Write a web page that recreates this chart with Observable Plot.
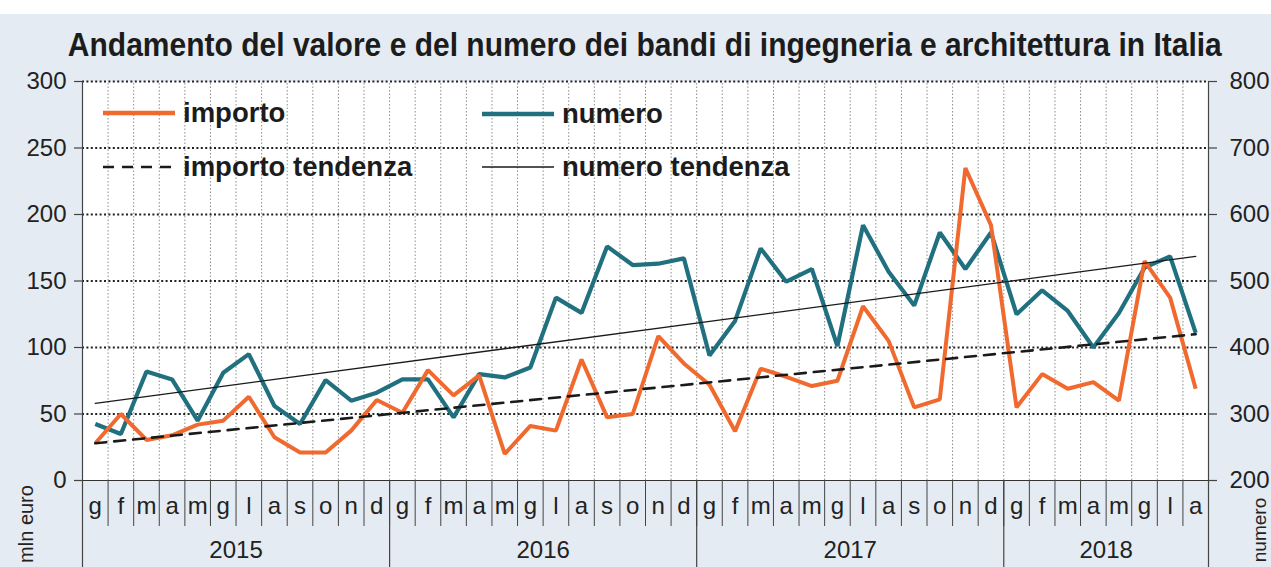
<!DOCTYPE html>
<html>
<head>
<meta charset="utf-8">
<script src="https://cdn.jsdelivr.net/npm/d3@7"></script>
<script src="https://cdn.jsdelivr.net/npm/@observablehq/plot@0.6"></script>
<style>
  html, body { margin: 0; padding: 0; }
  body { width: 1271px; height: 567px; overflow: hidden; background: #e5ebf2; font-family: "Liberation Sans", Arial, sans-serif; }
  #wrap { position: relative; width: 1271px; height: 567px; }
  #topstrip { position: absolute; left: 0; top: 0; width: 1271px; height: 14px; background: #ffffff; }
  #title { position: absolute; left: 9px; top: 25px; width: 1271px; text-align: center; white-space: nowrap;
           font-size: 30px; font-weight: bold; color: #1c1c1c; line-height: 40px; }
  #title span { display: inline-block; transform-origin: 50% 50%; }
  #chart { position: absolute; left: 0; top: 70px; }
  #legend { position: absolute; left: 0; top: 0; pointer-events: none; }
</style>
</head>
<body>
<div id="wrap">
  <div id="topstrip"></div>
  <div id="title"><span>Andamento del valore e del numero dei bandi di ingegneria e architettura in Italia</span></div>
  <div id="chart"></div>
  <svg id="legend" width="1271" height="567"></svg>
</div>
<script>
// ---- data ----
const months = ["g","f","m","a","m","g","l","a","s","o","n","d"];
const years = ["2015","2016","2017","2018"];
// importo (mln euro), left axis
const importo = [
  28, 50, 30.5, 34, 42, 45, 63, 32.5, 21, 21, 37.5, 60.5,
  51, 83, 64, 79, 20, 41, 37.5, 91, 47.5, 50, 108.5, 88,
  72, 37, 84, 78, 71, 75, 131, 105, 55, 61, 235, 192,
  55, 80, 69, 74, 60, 165, 137.5, 69
];
// numero (count), right axis
const numero = [
  285, 270, 364, 352, 290, 362, 390, 312, 285, 351, 320, 332,
  352, 352, 295, 360, 355, 370, 475, 452, 552, 524, 526, 534,
  388, 440, 549, 499, 518, 402, 584, 514, 463, 573, 518, 573,
  450, 486, 455, 400, 452, 520, 537, 422
];
// trend lines (first and last month)
const importoTrend = [28, 110];
const numeroTrend = [316, 537];
const leftTicks = [0, 50, 100, 150, 200, 250, 300];
const rightTicks = [200, 300, 400, 500, 600, 700, 800];
const seriesNames = ["importo", "numero", "importo tendenza", "numero tendenza"];
const colors = { importo: "#f0692f", numero: "#21707f", trend: "#1a1a1a" };

// ---- title fit ----
const tspan = document.querySelector("#title span");
const tw = tspan.getBoundingClientRect().width;
tspan.style.transform = `scale(${1154 / tw}, 1.12)`;

// ---- derived tables ----
const toLeft = n => (n - 200) / 2; // right axis 200..800 -> left 0..300
const rows = importo.map((v, i) => ({
  i, month: months[i % 12], year: years[Math.floor(i / 12)], importo: v, numero: numero[i]
}));
const n = rows.length;
const trendRows = (arr) => [{ i: 0, v: arr[0] }, { i: n - 1, v: arr[1] }];
const inner = d3.range(0.5, n - 1, 1);            // boundaries between months
const yearInner = years.slice(1).map((y, k) => (k + 1) * 12 - 0.5);
const edges = [-0.5, n - 0.5];
const yearCenters = years.map(y => {
  const idx = rows.filter(r => r.year === y).map(r => r.i);
  return { year: y, x: (d3.min(idx) + d3.max(idx)) / 2 };
});
const pxPerUnitX = 1126 / n, pxPerUnitY = 399 / 300;

const chart = Plot.plot({
  width: 1271, height: 497,
  marginTop: 11, marginBottom: 87, marginLeft: 82, marginRight: 63,
  x: { domain: [-0.5, n - 0.5], axis: null },
  y: { domain: [0, 300], axis: null },
  style: { background: "transparent", overflow: "visible", fontFamily: "Liberation Sans, Arial, sans-serif", color: "#222" },
  marks: [
    Plot.frame({ fill: "#ffffff", stroke: "none" }),
    // vertical dotted grid
    Plot.ruleX(inner, { y1: 0, y2: 300, stroke: "#8c8c8c", strokeWidth: 1, strokeDasharray: "1.5,2" }),
    // horizontal dotted grid
    Plot.ruleY(leftTicks.filter(t => t > 0), { x1: -0.5, x2: n - 0.5, stroke: "#222", strokeWidth: 2, strokeDasharray: "2,2.4" }),
    // zero baseline
    Plot.ruleY([0], { x1: -0.5, x2: n - 0.5, stroke: "#333", strokeWidth: 1.2 }),
    // month separators below the axis
    Plot.ruleX(inner, { y1: 0, y2: -46 / pxPerUnitY, stroke: "#444", strokeWidth: 1 }),
    // year separators below the axis
    Plot.ruleX(yearInner, { y1: 0, y2: -88 / pxPerUnitY, stroke: "#444", strokeWidth: 1.2 }),
    // axis lines
    Plot.ruleX(edges, { y1: 300, y2: -88 / pxPerUnitY, stroke: "#444", strokeWidth: 1.2 }),
    // left ticks
    Plot.ruleY(leftTicks, { x1: -0.5 - 8 / pxPerUnitX, x2: -0.5, stroke: "#444", strokeWidth: 1.2 }),
    // right ticks
    Plot.ruleY(rightTicks, { y: d => toLeft(d), x1: n - 0.5, x2: n - 0.5 + 9 / pxPerUnitX, stroke: "#444", strokeWidth: 1.2 }),
    // left tick labels
    Plot.text(leftTicks, { y: d => d, text: d => String(d), frameAnchor: "left", dx: -16, textAnchor: "end", fontSize: 24, fill: "#222" }),
    // right tick labels
    Plot.text(rightTicks, { y: d => toLeft(d), text: d => String(d), frameAnchor: "right", dx: 21, textAnchor: "start", fontSize: 24, fill: "#222" }),
    // month labels
    Plot.text(rows, { x: "i", text: "month", frameAnchor: "bottom", dy: 33, fontSize: 24, fill: "#222" }),
    // year labels
    Plot.text(yearCenters, { x: "x", text: "year", frameAnchor: "bottom", dy: 77, fontSize: 24, fill: "#222" }),
    // series
    Plot.line(rows, { x: "i", y: d => toLeft(d.numero), stroke: colors.numero, strokeWidth: 4.2, strokeLinejoin: "miter", strokeLinecap: "butt" }),
    Plot.line(rows, { x: "i", y: "importo", stroke: colors.importo, strokeWidth: 4, strokeLinejoin: "miter", strokeLinecap: "butt" }),
    // trends
    Plot.line(trendRows(importoTrend), { x: "i", y: "v", stroke: colors.trend, strokeWidth: 2.6, strokeDasharray: "11,8" }),
    Plot.line(trendRows(numeroTrend).map(d => ({ i: d.i, v: toLeft(d.v) })), { x: "i", y: "v", stroke: colors.trend, strokeWidth: 1.3 })
  ]
});
document.getElementById("chart").appendChild(chart);

// ---- legend and axis titles (overlay) ----
const legend = d3.select("#legend");
const items = [
  { name: seriesNames[0], x: 103, y: 113, stroke: colors.importo, w: 4.5, dash: null },
  { name: seriesNames[1], x: 482, y: 114, stroke: colors.numero, w: 4.5, dash: null },
  { name: seriesNames[2], x: 103, y: 167, stroke: colors.trend, w: 2.6, dash: "11,8" },
  { name: seriesNames[3], x: 482, y: 167, stroke: colors.trend, w: 1.3, dash: null }
];
items.forEach(it => {
  legend.append("line").attr("x1", it.x).attr("x2", it.x + 72).attr("y1", it.y).attr("y2", it.y)
    .attr("stroke", it.stroke).attr("stroke-width", it.w).attr("stroke-dasharray", it.dash);
  legend.append("text").attr("x", it.x + 80).attr("y", it.y + 9)
    .attr("font-family", "Liberation Sans, Arial, sans-serif").attr("font-size", 27.5).attr("font-weight", "bold")
    .attr("fill", "#1c1c1c").text(it.name);
});
legend.append("text").attr("transform", "translate(33,524) rotate(-90)").attr("text-anchor", "middle")
  .attr("font-family", "Liberation Sans, Arial, sans-serif").attr("font-size", 20).attr("fill", "#222").text("mln euro");
legend.append("text").attr("transform", "translate(1266,530) rotate(-90)").attr("text-anchor", "middle")
  .attr("font-family", "Liberation Sans, Arial, sans-serif").attr("font-size", 19).attr("fill", "#222").text("numero");
</script>
</body>
</html>
